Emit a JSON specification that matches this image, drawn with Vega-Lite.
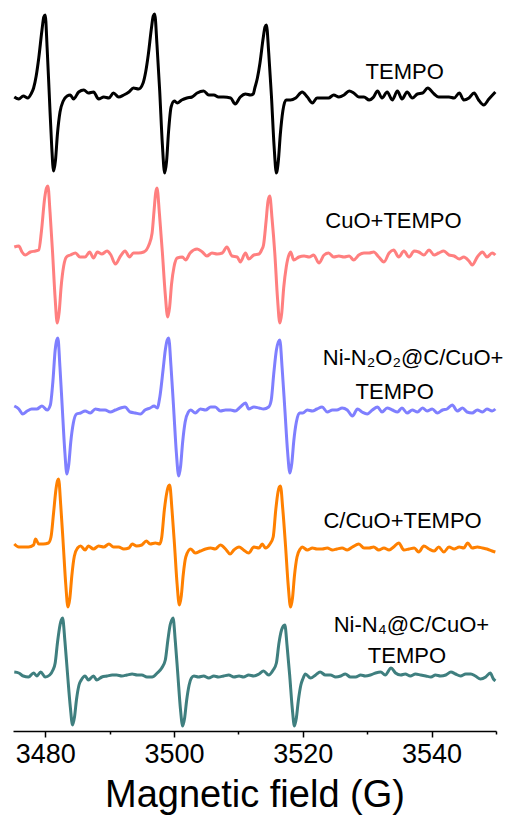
{
  "$schema": "https://vega.github.io/schema/vega-lite/v6.json",
  "width": 483,
  "height": 726,
  "autosize": {"type": "none"},
  "padding": {"left": 13, "top": 5, "right": 14, "bottom": 90},
  "background": "white",
  "config": {"view": {"stroke": null}, "font": "Liberation Sans"},
  "datasets": {
    "tempo": [
      {"B":3475.2,"I":634},{"B":3475.9,"I":632},{"B":3476.6,"I":635},{"B":3477.3,"I":633},{"B":3477.8,"I":637},
      {"B":3478.2,"I":643},{"B":3478.6,"I":655},{"B":3479.0,"I":673},{"B":3479.5,"I":701},{"B":3479.78,"I":714},{"B":3480.0,"I":716},{"B":3480.3,"I":683},{"B":3480.65,"I":634},{"B":3481.0,"I":586},{"B":3481.3,"I":560},{"B":3481.6,"I":571},{"B":3481.9,"I":597},{"B":3482.3,"I":619},{"B":3482.8,"I":630},
      {"B":3483.4,"I":635},{"B":3483.9,"I":636},{"B":3484.4,"I":632},{"B":3485.2,"I":639},{"B":3486.0,"I":641},{"B":3486.7,"I":638},{"B":3487.5,"I":639},{"B":3488.3,"I":632},{"B":3489.1,"I":634},{"B":3489.9,"I":633},{"B":3490.6,"I":638},{"B":3491.4,"I":634},{"B":3492.2,"I":636},{"B":3493.0,"I":639},{"B":3493.7,"I":643},{"B":3494.5,"I":642},
      {"B":3495.2,"I":648},{"B":3495.6,"I":659},{"B":3496.0,"I":676},{"B":3496.5,"I":703},{"B":3496.78,"I":715},{"B":3497.0,"I":717},{"B":3497.36,"I":686},{"B":3497.78,"I":640},{"B":3498.19,"I":587},{"B":3498.55,"I":558},{"B":3498.85,"I":570},{"B":3499.15,"I":599},{"B":3499.55,"I":624},{"B":3500.05,"I":630},
      {"B":3500.5,"I":628},{"B":3501.2,"I":631},{"B":3502.0,"I":633},{"B":3502.8,"I":634},{"B":3503.6,"I":638},{"B":3504.6,"I":640},{"B":3505.4,"I":636},{"B":3506.2,"I":636},{"B":3506.9,"I":634},{"B":3507.7,"I":634},{"B":3508.8,"I":633},{"B":3509.5,"I":627},{"B":3510.3,"I":634},{"B":3511.1,"I":637},{"B":3511.9,"I":636},{"B":3512.3,"I":637},
      {"B":3512.55,"I":643},{"B":3512.95,"I":653},{"B":3513.35,"I":668},{"B":3513.85,"I":693},{"B":3514.13,"I":704},{"B":3514.35,"I":706},{"B":3514.71,"I":678},{"B":3515.13,"I":635},{"B":3515.54,"I":585},{"B":3515.9,"I":558},{"B":3516.2,"I":570},{"B":3516.5,"I":596},{"B":3516.9,"I":620},{"B":3517.4,"I":631},
      {"B":3518.1,"I":631},{"B":3518.9,"I":633},{"B":3519.9,"I":639},{"B":3520.7,"I":634},{"B":3521.5,"I":628},{"B":3522.2,"I":633},{"B":3523.0,"I":633},{"B":3524.0,"I":633},{"B":3524.8,"I":636},{"B":3525.6,"I":634},{"B":3526.4,"I":636},{"B":3527.2,"I":640},{"B":3527.9,"I":638},{"B":3528.7,"I":634},{"B":3529.5,"I":634},{"B":3530.3,"I":631},{"B":3531.0,"I":634},{"B":3531.6,"I":640},{"B":3532.3,"I":633},{"B":3533.1,"I":639},{"B":3533.9,"I":631},{"B":3534.7,"I":640},{"B":3535.4,"I":632},{"B":3536.2,"I":639},{"B":3537.0,"I":633},{"B":3537.8,"I":637},{"B":3538.6,"I":638},{"B":3539.4,"I":643},{"B":3540.4,"I":637},{"B":3541.1,"I":634},{"B":3541.9,"I":634},{"B":3542.7,"I":634},{"B":3543.5,"I":633},{"B":3544.3,"I":638},{"B":3545.0,"I":631},{"B":3545.8,"I":633},{"B":3546.6,"I":638},{"B":3547.3,"I":631},{"B":3548.1,"I":626},{"B":3548.9,"I":632},{"B":3549.9,"I":639}
    ],
    "cuo": [
      {"B":3475.2,"I":484},{"B":3475.9,"I":485},{"B":3476.4,"I":479},{"B":3476.9,"I":476},{"B":3477.7,"I":479},{"B":3478.5,"I":480},{"B":3479.0,"I":481},
      {"B":3479.42,"I":500},{"B":3479.92,"I":533},{"B":3480.2,"I":543},{"B":3480.42,"I":545},{"B":3480.75,"I":519},{"B":3481.14,"I":479},{"B":3481.54,"I":433},{"B":3481.87,"I":408},{"B":3482.17,"I":419},{"B":3482.47,"I":444},{"B":3482.87,"I":465},{"B":3483.3,"I":474},
      {"B":3483.9,"I":476},{"B":3484.7,"I":478},{"B":3485.4,"I":474},{"B":3486.2,"I":474},{"B":3486.9,"I":479},{"B":3487.5,"I":473},{"B":3488.1,"I":479},{"B":3488.8,"I":477},{"B":3489.6,"I":480},{"B":3490.2,"I":476},{"B":3490.9,"I":467},{"B":3491.7,"I":475},{"B":3492.4,"I":480},{"B":3493.1,"I":474},{"B":3493.7,"I":478},{"B":3494.5,"I":478},{"B":3495.3,"I":479},
      {"B":3496.1,"I":486},{"B":3496.6,"I":498},{"B":3496.9,"I":520},{"B":3497.15,"I":538},{"B":3497.36,"I":543},{"B":3497.74,"I":517},{"B":3498.19,"I":479},{"B":3498.64,"I":437},{"B":3499.02,"I":414},{"B":3499.32,"I":424},{"B":3499.62,"I":447},{"B":3500.0,"I":464},{"B":3500.5,"I":473},
      {"B":3501.3,"I":474},{"B":3501.8,"I":471},{"B":3502.5,"I":478},{"B":3503.6,"I":482},{"B":3504.4,"I":479},{"B":3505.1,"I":475},{"B":3505.9,"I":478},{"B":3506.7,"I":477},{"B":3507.5,"I":478},{"B":3508.2,"I":484},{"B":3509.0,"I":475},{"B":3509.8,"I":474},{"B":3510.3,"I":469},{"B":3511.1,"I":478},{"B":3511.6,"I":472},{"B":3512.4,"I":476},{"B":3513.2,"I":477},{"B":3513.6,"I":481},
      {"B":3513.9,"I":486},{"B":3514.3,"I":510},{"B":3514.6,"I":530},{"B":3514.87,"I":535},{"B":3515.23,"I":512},{"B":3515.65,"I":478},{"B":3516.07,"I":433},{"B":3516.43,"I":408},{"B":3516.73,"I":418},{"B":3517.03,"I":443},{"B":3517.43,"I":464},{"B":3517.9,"I":477},
      {"B":3518.1,"I":479},{"B":3518.6,"I":471},{"B":3519.4,"I":474},{"B":3520.2,"I":475},{"B":3521.0,"I":474},{"B":3521.7,"I":476},{"B":3522.5,"I":468},{"B":3523.3,"I":476},{"B":3524.0,"I":478},{"B":3524.8,"I":474},{"B":3525.6,"I":475},{"B":3526.4,"I":474},{"B":3527.2,"I":475},{"B":3527.9,"I":471},{"B":3528.7,"I":476},{"B":3529.5,"I":478},{"B":3530.3,"I":478},{"B":3531.0,"I":479},{"B":3531.8,"I":474},{"B":3532.6,"I":469},{"B":3533.4,"I":478},{"B":3534.1,"I":481},{"B":3534.9,"I":474},{"B":3535.7,"I":480},{"B":3536.5,"I":474},{"B":3537.3,"I":480},{"B":3538.0,"I":479},{"B":3538.8,"I":476},{"B":3539.6,"I":481},{"B":3540.4,"I":476},{"B":3541.1,"I":478},{"B":3541.9,"I":480},{"B":3542.7,"I":476},{"B":3543.5,"I":475},{"B":3544.3,"I":472},{"B":3545.0,"I":474},{"B":3545.8,"I":470},{"B":3546.3,"I":466},{"B":3547.1,"I":474},{"B":3547.9,"I":479},{"B":3548.6,"I":474},{"B":3549.4,"I":478},{"B":3549.9,"I":476}
    ],
    "nin2o2": [
      {"B":3475.2,"I":325},{"B":3475.9,"I":322},{"B":3476.5,"I":317},{"B":3477.2,"I":320},{"B":3477.9,"I":322},{"B":3478.7,"I":322},{"B":3479.5,"I":325},{"B":3480.3,"I":321},
      {"B":3480.8,"I":326},{"B":3481.2,"I":350},{"B":3481.55,"I":381},{"B":3481.8,"I":391},{"B":3481.97,"I":393},{"B":3482.29,"I":364},{"B":3482.67,"I":321},{"B":3483.05,"I":279},{"B":3483.37,"I":257},{"B":3483.67,"I":267},{"B":3483.97,"I":289},{"B":3484.37,"I":308},{"B":3484.87,"I":317},
      {"B":3485.5,"I":318},{"B":3486.2,"I":320},{"B":3487.0,"I":318},{"B":3487.8,"I":322},{"B":3488.6,"I":321},{"B":3489.3,"I":321},{"B":3490.1,"I":319},{"B":3490.9,"I":321},{"B":3491.7,"I":323},{"B":3492.4,"I":324},{"B":3493.2,"I":319},{"B":3494.0,"I":318},{"B":3494.8,"I":317},{"B":3495.5,"I":321},{"B":3496.3,"I":323},{"B":3496.9,"I":325},{"B":3497.4,"I":323},
      {"B":3497.8,"I":334},{"B":3498.3,"I":361},{"B":3498.65,"I":381},{"B":3498.95,"I":391},{"B":3499.17,"I":393},{"B":3499.53,"I":365},{"B":3499.95,"I":322},{"B":3500.37,"I":278},{"B":3500.73,"I":255},{"B":3501.03,"I":265},{"B":3501.33,"I":288},{"B":3501.73,"I":309},{"B":3502.23,"I":319},
      {"B":3502.6,"I":321},{"B":3503.3,"I":318},{"B":3504.1,"I":322},{"B":3504.9,"I":321},{"B":3505.7,"I":324},{"B":3506.4,"I":324},{"B":3507.2,"I":320},{"B":3508.0,"I":321},{"B":3508.8,"I":321},{"B":3509.5,"I":320},{"B":3510.3,"I":324},{"B":3511.1,"I":328},{"B":3511.6,"I":322},{"B":3512.4,"I":324},{"B":3513.2,"I":323},{"B":3513.9,"I":322},{"B":3514.7,"I":324},
      {"B":3515.1,"I":331},{"B":3515.5,"I":358},{"B":3515.9,"I":381},{"B":3516.2,"I":389},{"B":3516.43,"I":391},{"B":3516.79,"I":363},{"B":3517.21,"I":322},{"B":3517.63,"I":280},{"B":3518.0,"I":258},{"B":3518.3,"I":268},{"B":3518.6,"I":290},{"B":3519.0,"I":309},{"B":3519.5,"I":318},
      {"B":3520.0,"I":318},{"B":3520.7,"I":321},{"B":3521.5,"I":320},{"B":3522.2,"I":322},{"B":3523.0,"I":324},{"B":3523.8,"I":319},{"B":3524.6,"I":321},{"B":3525.3,"I":321},{"B":3526.1,"I":323},{"B":3526.9,"I":321},{"B":3527.7,"I":315},{"B":3528.5,"I":322},{"B":3529.2,"I":319},{"B":3530.0,"I":317},{"B":3530.8,"I":321},{"B":3531.6,"I":324},{"B":3532.3,"I":319},{"B":3533.1,"I":323},{"B":3533.9,"I":321},{"B":3534.7,"I":319},{"B":3535.4,"I":323},{"B":3536.2,"I":318},{"B":3537.0,"I":321},{"B":3537.8,"I":319},{"B":3538.6,"I":323},{"B":3539.3,"I":320},{"B":3540.1,"I":322},{"B":3540.9,"I":318},{"B":3541.7,"I":321},{"B":3542.4,"I":322},{"B":3543.2,"I":326},{"B":3544.0,"I":320},{"B":3544.8,"I":323},{"B":3545.5,"I":319},{"B":3546.3,"I":318},{"B":3547.1,"I":321},{"B":3547.9,"I":319},{"B":3548.6,"I":322},{"B":3549.4,"I":320},{"B":3549.9,"I":322}
    ],
    "ccuo": [
      {"B":3475.2,"I":187},{"B":3475.9,"I":184},{"B":3476.6,"I":184},{"B":3477.4,"I":184},{"B":3478.2,"I":186},{"B":3478.5,"I":192},{"B":3479.0,"I":187},{"B":3479.7,"I":187},{"B":3480.5,"I":188},
      {"B":3480.9,"I":194},{"B":3481.3,"I":218},{"B":3481.66,"I":241},{"B":3481.9,"I":250},{"B":3482.08,"I":252},{"B":3482.41,"I":226},{"B":3482.8,"I":187},{"B":3483.2,"I":146},{"B":3483.53,"I":124},{"B":3483.83,"I":133},{"B":3484.13,"I":155},{"B":3484.53,"I":175},{"B":3485.03,"I":183},
      {"B":3485.5,"I":185},{"B":3486.2,"I":181},{"B":3486.7,"I":185},{"B":3487.5,"I":182},{"B":3488.3,"I":185},{"B":3489.1,"I":184},{"B":3489.9,"I":187},{"B":3490.6,"I":184},{"B":3491.4,"I":184},{"B":3492.2,"I":182},{"B":3493.0,"I":183},{"B":3493.5,"I":187},{"B":3494.2,"I":185},{"B":3495.0,"I":186},{"B":3495.7,"I":190},{"B":3496.3,"I":187},{"B":3497.1,"I":188},{"B":3497.8,"I":187},
      {"B":3498.1,"I":194},{"B":3498.5,"I":221},{"B":3498.9,"I":239},{"B":3499.15,"I":245},{"B":3499.33,"I":246},{"B":3499.68,"I":222},{"B":3500.08,"I":186},{"B":3500.48,"I":147},{"B":3500.83,"I":126},{"B":3501.13,"I":135},{"B":3501.43,"I":156},{"B":3501.83,"I":174},
      {"B":3502.6,"I":182},{"B":3503.3,"I":178},{"B":3504.1,"I":180},{"B":3504.9,"I":182},{"B":3505.7,"I":183},{"B":3506.4,"I":182},{"B":3507.2,"I":186},{"B":3508.0,"I":182},{"B":3508.7,"I":177},{"B":3509.3,"I":181},{"B":3510.1,"I":184},{"B":3510.8,"I":181},{"B":3511.6,"I":178},{"B":3512.4,"I":184},{"B":3513.2,"I":183},{"B":3513.7,"I":187},{"B":3514.2,"I":183},{"B":3514.9,"I":187},
      {"B":3515.4,"I":194},{"B":3515.8,"I":221},{"B":3516.15,"I":239},{"B":3516.35,"I":244},{"B":3516.53,"I":245},{"B":3516.89,"I":222},{"B":3517.31,"I":186},{"B":3517.73,"I":146},{"B":3518.1,"I":124},{"B":3518.4,"I":133},{"B":3518.7,"I":155},{"B":3519.1,"I":174},{"B":3519.6,"I":182},
      {"B":3519.9,"I":184},{"B":3520.7,"I":181},{"B":3521.5,"I":183},{"B":3522.2,"I":182},{"B":3523.0,"I":182},{"B":3523.8,"I":183},{"B":3524.6,"I":181},{"B":3525.3,"I":182},{"B":3526.1,"I":183},{"B":3526.9,"I":181},{"B":3527.7,"I":184},{"B":3528.7,"I":187},{"B":3529.5,"I":183},{"B":3530.3,"I":183},{"B":3531.0,"I":184},{"B":3531.8,"I":181},{"B":3532.6,"I":183},{"B":3533.4,"I":181},{"B":3534.1,"I":184},{"B":3534.9,"I":188},{"B":3535.7,"I":181},{"B":3536.5,"I":182},{"B":3537.3,"I":183},{"B":3538.0,"I":179},{"B":3538.8,"I":185},{"B":3539.6,"I":182},{"B":3540.4,"I":180},{"B":3541.1,"I":184},{"B":3541.9,"I":179},{"B":3542.7,"I":184},{"B":3543.5,"I":182},{"B":3544.3,"I":184},{"B":3545.0,"I":183},{"B":3545.6,"I":188},{"B":3546.3,"I":183},{"B":3547.1,"I":184},{"B":3547.9,"I":183},{"B":3548.6,"I":182},{"B":3549.4,"I":180},{"B":3549.9,"I":179}
    ],
    "nin4": [
      {"B":3475.2,"I":59},{"B":3475.9,"I":58},{"B":3476.6,"I":55},{"B":3477.4,"I":54},{"B":3478.2,"I":58},{"B":3478.7,"I":55},{"B":3479.3,"I":59},{"B":3480.0,"I":54},{"B":3480.7,"I":56},{"B":3481.2,"I":61},
      {"B":3481.55,"I":68},{"B":3481.9,"I":88},{"B":3482.3,"I":106},{"B":3482.5,"I":111},{"B":3482.7,"I":113},{"B":3483.06,"I":90},{"B":3483.48,"I":56},{"B":3483.9,"I":24},{"B":3484.25,"I":6},{"B":3484.55,"I":14},{"B":3484.85,"I":31},{"B":3485.25,"I":46},
      {"B":3485.6,"I":51},{"B":3486.2,"I":55},{"B":3486.7,"I":51},{"B":3487.5,"I":55},{"B":3488.0,"I":51},{"B":3488.8,"I":54},{"B":3489.6,"I":55},{"B":3490.4,"I":56},{"B":3491.1,"I":56},{"B":3491.9,"I":55},{"B":3492.7,"I":56},{"B":3493.5,"I":57},{"B":3494.3,"I":56},{"B":3495.0,"I":56},{"B":3495.8,"I":54},{"B":3496.6,"I":54},{"B":3497.4,"I":58},{"B":3498.1,"I":63},
      {"B":3498.65,"I":71},{"B":3499.05,"I":91},{"B":3499.4,"I":106},{"B":3499.65,"I":111},{"B":3499.85,"I":113},{"B":3500.2,"I":90},{"B":3500.6,"I":56},{"B":3501.0,"I":22},{"B":3501.35,"I":5},{"B":3501.65,"I":13},{"B":3501.95,"I":30},{"B":3502.35,"I":46},{"B":3502.7,"I":53},
      {"B":3503.1,"I":55},{"B":3503.8,"I":54},{"B":3504.6,"I":55},{"B":3505.4,"I":53},{"B":3506.2,"I":55},{"B":3506.9,"I":54},{"B":3507.7,"I":55},{"B":3508.5,"I":56},{"B":3509.3,"I":54},{"B":3510.1,"I":55},{"B":3510.8,"I":54},{"B":3511.6,"I":56},{"B":3512.4,"I":55},{"B":3513.2,"I":57},{"B":3513.9,"I":60},{"B":3514.7,"I":56},{"B":3515.4,"I":61},
      {"B":3515.9,"I":68},{"B":3516.3,"I":88},{"B":3516.7,"I":101},{"B":3516.98,"I":105},{"B":3517.21,"I":106},{"B":3517.56,"I":85},{"B":3517.96,"I":56},{"B":3518.36,"I":23},{"B":3518.7,"I":5},{"B":3519.0,"I":13},{"B":3519.3,"I":30},{"B":3519.7,"I":46},{"B":3520.0,"I":52},
      {"B":3520.4,"I":57},{"B":3521.2,"I":53},{"B":3522.0,"I":56},{"B":3522.7,"I":59},{"B":3523.5,"I":56},{"B":3524.3,"I":56},{"B":3525.1,"I":54},{"B":3525.9,"I":55},{"B":3526.6,"I":57},{"B":3527.4,"I":54},{"B":3528.2,"I":54},{"B":3529.0,"I":56},{"B":3529.7,"I":55},{"B":3530.5,"I":56},{"B":3531.3,"I":58},{"B":3532.1,"I":59},{"B":3532.8,"I":56},{"B":3533.7,"I":63},{"B":3534.4,"I":58},{"B":3535.2,"I":56},{"B":3535.9,"I":57},{"B":3536.7,"I":55},{"B":3537.5,"I":57},{"B":3538.3,"I":56},{"B":3539.1,"I":55},{"B":3539.9,"I":54},{"B":3540.6,"I":56},{"B":3541.4,"I":55},{"B":3542.2,"I":56},{"B":3543.0,"I":59},{"B":3543.7,"I":57},{"B":3544.5,"I":55},{"B":3545.3,"I":57},{"B":3546.1,"I":57},{"B":3546.8,"I":55},{"B":3547.6,"I":52},{"B":3548.4,"I":54},{"B":3549.1,"I":58},{"B":3549.6,"I":52},{"B":3549.9,"I":50}
    ],
    "labels": [
      {"B":3529.75,"I":652,"text":"TEMPO"},
      {"B":3523.5,"I":503,"text":"CuO+TEMPO"},
      {"B":3523.1,"I":366,"text":"Ni-N₂O₂@C/CuO+"},
      {"B":3528.2,"I":332,"text":"TEMPO"},
      {"B":3523.2,"I":203,"text":"C/CuO+TEMPO"},
      {"B":3524.8,"I":99,"text":"Ni-N₄@C/CuO+"},
      {"B":3530.1,"I":68,"text":"TEMPO"}
    ]
  },
  "encoding": {
    "x": {"field": "B", "type": "quantitative", "scale": {"domain": [3475, 3550], "nice": false, "zero": false}},
    "y": {"field": "I", "type": "quantitative", "scale": {"domain": [0, 726], "nice": false, "zero": false}, "axis": null}
  },
  "layer": [
    {
      "data": {"name": "tempo"},
      "mark": {"type": "line", "color": "#000000", "strokeWidth": 3, "interpolate": "monotone"},
      "encoding": {
        "x": {"field": "B", "type": "quantitative", "axis": {
          "orient": "bottom", "values": [3480, 3500, 3520, 3540], "format": "d", "title": "Magnetic field (G)", "grid": false,
          "titleFontSize": 38, "titleFontWeight": "normal", "titleColor": "#000000", "titlePadding": 9,
          "labelFontSize": 27, "labelColor": "#000000", "labelPadding": 4, "labelFlush": false,
          "tickSize": 6, "tickWidth": 1.5, "tickColor": "#000000", "domainColor": "#000000", "domainWidth": 1.5
        }}
      }
    },
    {
      "data": {"name": "cuo"},
      "mark": {"type": "line", "color": "#FF7F7F", "strokeWidth": 3, "interpolate": "monotone"},
      "encoding": {
        "x": {"field": "B", "type": "quantitative", "axis": {
          "orient": "bottom", "values": [3490, 3510, 3530, 3550], "title": null, "labels": false, "grid": false, "domain": false,
          "tickSize": 3, "tickWidth": 1.5, "tickColor": "#000000"
        }}
      }
    },
    {
      "data": {"name": "nin2o2"},
      "mark": {"type": "line", "color": "#7F7FFF", "strokeWidth": 3, "interpolate": "monotone"},
      "encoding": {"x": {"field": "B", "type": "quantitative", "axis": null}}
    },
    {
      "data": {"name": "ccuo"},
      "mark": {"type": "line", "color": "#FF8000", "strokeWidth": 3, "interpolate": "monotone"},
      "encoding": {"x": {"field": "B", "type": "quantitative", "axis": null}}
    },
    {
      "data": {"name": "nin4"},
      "mark": {"type": "line", "color": "#3F7F7F", "strokeWidth": 3, "interpolate": "monotone"},
      "encoding": {"x": {"field": "B", "type": "quantitative", "axis": null}}
    },
    {
      "data": {"name": "labels"},
      "mark": {"type": "text", "align": "left", "baseline": "alphabetic", "fontSize": 22, "color": "#000000"},
      "encoding": {
        "x": {"field": "B", "type": "quantitative", "axis": null},
        "text": {"field": "text"}
      }
    }
  ],
  "resolve": {"axis": {"x": "independent"}}
}
